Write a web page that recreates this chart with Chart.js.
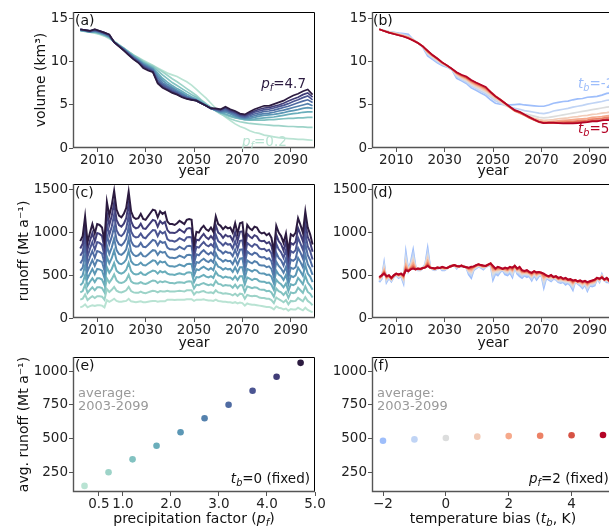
<!DOCTYPE html>
<html>
<head>
<meta charset="utf-8">
<script src="https://cdn.jsdelivr.net/npm/chart.js@4.4.0/dist/chart.umd.min.js"></script>
<style>
html, body { margin: 0; padding: 0; width: 609px; height: 529px; overflow: hidden; background: #fff; font-family: "DejaVu Sans", sans-serif; }
canvas { position: absolute; }
.t { position: absolute; white-space: nowrap; font-size: 13.5px; line-height: 1; color: #111; }
.t sub { font-size: 72%; vertical-align: -0.28em; line-height: 0; }
.pl { font-size: 14px; }
.avg { color: #999; font-size: 13px; line-height: 13px; }
.xt { font-size: 14px; text-align: center; width: 242px; }
</style>
</head>
<body>
<canvas id="ca" width="330" height="180" style="left:0;top:0"></canvas>
<canvas id="cb" width="330" height="180" style="left:300px;top:0"></canvas>
<canvas id="cc" width="330" height="180" style="left:0;top:172px"></canvas>
<canvas id="cd" width="330" height="180" style="left:300px;top:172px"></canvas>
<canvas id="ce" width="330" height="184" style="left:0;top:345px"></canvas>
<canvas id="cf" width="330" height="184" style="left:300px;top:345px"></canvas>

<div class="t pl" style="left:75px;top:13px">(a)</div>
<div class="t pl" style="left:373px;top:13px">(b)</div>
<div class="t pl" style="left:75px;top:185px">(c)</div>
<div class="t pl" style="left:373px;top:185px">(d)</div>
<div class="t pl" style="left:75px;top:358px">(e)</div>
<div class="t pl" style="left:373px;top:358px">(f)</div>

<div class="t" style="right:303px;top:77px;color:#2c1b40"><i>p<sub>f</sub></i>=4.7</div>
<div class="t" style="left:242px;top:135px;color:#b9e3d3"><i>p<sub>f</sub></i>=0.2</div>
<div class="t" style="left:578px;top:77px;color:#9ebefb"><i>t<sub>b</sub></i>=-2</div>
<div class="t" style="left:578px;top:122px;color:#b40426"><i>t<sub>b</sub></i>=5</div>

<div class="t avg" style="left:78px;top:386px">average:<br>2003-2099</div>
<div class="t avg" style="left:377px;top:386px">average:<br>2003-2099</div>
<div class="t" style="right:299px;top:472px"><i>t<sub>b</sub></i>=0 (fixed)</div>
<div class="t" style="left:529px;top:472px"><i>p<sub>f</sub></i>=2 (fixed)</div>

<div class="t xt" style="left:73px;top:511px">precipitation factor (<i>p<sub>f</sub></i>)</div>
<div class="t xt" style="left:372px;top:511px">temperature bias (<i>t<sub>b</sub></i>, K)</div>

<script>
// years: volume sampled every 2 years, runoff annual
const volYears = [];
for (let y = 2003; y <= 2099; y += 2) volYears.push(y);
const runYears = [];
for (let y = 2003; y <= 2099; y++) runYears.push(y);

const yearTicks = [2010, 2030, 2050, 2070, 2090];
const pfValues = [0.2, 0.7, 1.2, 1.7, 2.2, 2.7, 3.2, 3.7, 4.2, 4.7];
const tbValues = [-2, -1, 0, 1, 2, 3, 4, 5];

const pfColors = ['#b9e3d3', '#9dd3c8', '#82c2c1', '#6aaebb', '#5b97b5', '#5481ad', '#4f6ba2', '#4b5592', '#413d78', '#2c1b40'];
const tbColors = ['#9ebefb', '#c0d4f5', '#dcdddd', '#f2cbb7', '#f6a98b', '#ec8165', '#d65244', '#b40426'];

// (a) volume (km3), precipitation factor runs
const volPf02 = [13.6,13.55,13.45,13.35,13.2,13.0,12.7,12.4,12.0,11.6,11.2,10.8,10.5,10.2,9.9,9.6,9.3,9.0,8.7,8.5,8.3,8.0,7.7,7.3,6.8,6.3,5.8,5.2,4.6,4.1,3.6,3.2,2.8,2.5,2.3,2.0,1.8,1.7,1.5,1.4,1.3,1.2,1.15,1.1,1.05,1.0,1.0,0.95,0.9];
const volPf07 = [13.65,13.55,13.45,13.4,13.25,13.05,12.8,12.4,12.0,11.6,11.2,10.8,10.45,10.1,9.8,9.55,9.2,8.85,8.45,8.05,7.7,7.3,6.9,6.5,6.1,5.6,5.15,4.7,4.3,3.95,3.65,3.4,3.2,3.05,2.95,2.85,2.8,2.75,2.7,2.65,2.6,2.6,2.55,2.5,2.5,2.45,2.45,2.4,2.4];
const volPf12 = [13.65,13.6,13.45,13.45,13.3,13.1,12.85,12.35,11.95,11.6,11.15,10.75,10.4,10.0,9.7,9.45,9.0,8.5,8.05,7.6,7.25,6.9,6.55,6.2,5.9,5.5,5.1,4.75,4.4,4.1,3.85,3.65,3.5,3.4,3.3,3.25,3.25,3.25,3.25,3.3,3.3,3.35,3.4,3.45,3.45,3.5,3.5,3.55,3.55];
const volPf17 = [13.7,13.6,13.45,13.5,13.35,13.15,12.9,12.3,11.9,11.55,11.1,10.65,10.3,9.9,9.6,9.3,8.7,8.1,7.65,7.25,6.9,6.6,6.25,5.95,5.7,5.35,5.0,4.65,4.35,4.1,3.95,3.75,3.55,3.4,3.3,3.3,3.35,3.45,3.5,3.55,3.6,3.7,3.8,3.9,4.0,4.05,4.15,4.2,4.2];
const volPf22 = [13.7,13.6,13.5,13.55,13.4,13.2,12.95,12.3,11.9,11.5,11.05,10.6,10.2,9.8,9.5,9.2,8.45,7.85,7.4,7.05,6.7,6.4,6.05,5.8,5.6,5.3,4.95,4.6,4.35,4.15,4.15,3.95,3.7,3.5,3.4,3.45,3.55,3.7,3.8,3.85,3.9,4.0,4.1,4.25,4.35,4.45,4.6,4.7,4.6];
const volPf27 = [13.7,13.65,13.5,13.6,13.45,13.25,13.0,12.3,11.9,11.5,11.0,10.55,10.15,9.7,9.4,9.1,8.2,7.6,7.2,6.9,6.55,6.25,5.95,5.75,5.55,5.25,4.9,4.6,4.4,4.25,4.3,4.1,3.85,3.6,3.5,3.6,3.75,3.9,4.0,4.05,4.15,4.3,4.4,4.55,4.7,4.85,5.0,5.15,4.9];
const volPf32 = [13.75,13.65,13.55,13.65,13.5,13.3,13.05,12.3,11.85,11.45,10.95,10.5,10.1,9.6,9.3,9.0,7.95,7.4,7.05,6.75,6.45,6.1,5.85,5.7,5.5,5.2,4.9,4.6,4.45,4.3,4.45,4.2,4.0,3.7,3.6,3.75,3.95,4.1,4.25,4.3,4.4,4.55,4.7,4.85,5.05,5.25,5.45,5.6,5.3];
const volPf37 = [13.75,13.7,13.6,13.7,13.55,13.35,13.1,12.3,11.85,11.4,10.9,10.4,10.0,9.5,9.2,8.9,7.75,7.25,6.9,6.6,6.35,6.0,5.8,5.65,5.5,5.2,4.9,4.6,4.5,4.4,4.6,4.3,4.1,3.8,3.7,3.9,4.15,4.3,4.45,4.5,4.65,4.8,4.95,5.15,5.4,5.6,5.85,6.05,5.6];
const volPf42 = [13.8,13.7,13.6,13.75,13.6,13.4,13.15,12.3,11.8,11.35,10.85,10.35,9.95,9.4,9.1,8.85,7.6,7.1,6.8,6.5,6.25,5.95,5.75,5.6,5.5,5.2,4.9,4.6,4.55,4.45,4.7,4.4,4.2,3.9,3.8,4.05,4.3,4.5,4.65,4.7,4.85,5.0,5.2,5.45,5.7,5.9,6.2,6.4,5.9];
const volPf47 = [13.8,13.7,13.6,13.8,13.6,13.4,13.2,12.3,11.8,11.3,10.8,10.3,9.9,9.3,9.0,8.8,7.5,7.0,6.7,6.4,6.2,5.9,5.7,5.6,5.5,5.2,4.9,4.6,4.6,4.5,4.8,4.5,4.3,4.0,3.9,4.2,4.5,4.7,4.9,4.9,5.1,5.3,5.5,5.8,6.1,6.3,6.6,6.8,6.2];

// (b) volume (km3), temperature bias runs
const volTbM2 = [13.8,13.65,13.5,13.45,13.35,13.3,13.2,12.6,12.2,11.7,10.7,10.3,9.9,9.6,9.4,9.1,8.1,7.8,7.5,7.0,6.7,6.4,6.1,5.6,5.2,5.1,5.05,5.0,5.05,5.1,5.0,4.95,4.9,4.85,4.85,5.0,5.2,5.3,5.4,5.45,5.6,5.7,5.75,5.9,5.95,6.0,6.15,6.35,6.4];
const volTbM1 = [13.8,13.65,13.5,13.4,13.3,13.2,13.05,12.6,12.2,11.75,10.9,10.45,10.05,9.7,9.45,9.1,8.3,7.95,7.65,7.2,6.9,6.6,6.3,5.9,5.5,5.2,4.95,4.75,4.6,4.5,4.35,4.25,4.15,4.05,4.0,4.1,4.3,4.4,4.5,4.6,4.75,4.85,4.95,5.1,5.2,5.3,5.4,5.55,5.6];
const volTb0 = [13.8,13.65,13.5,13.4,13.25,13.1,12.95,12.55,12.2,11.8,11.0,10.55,10.15,9.8,9.5,9.15,8.45,8.1,7.8,7.4,7.05,6.8,6.5,6.1,5.7,5.35,5.0,4.7,4.4,4.2,4.0,3.85,3.7,3.55,3.5,3.55,3.65,3.75,3.85,3.95,4.05,4.15,4.25,4.35,4.45,4.55,4.65,4.75,4.8];
const volTb1 = [13.8,13.6,13.45,13.35,13.2,13.05,12.9,12.55,12.2,11.8,11.1,10.65,10.25,9.85,9.55,9.2,8.55,8.2,7.95,7.55,7.2,6.95,6.65,6.25,5.8,5.45,5.05,4.7,4.35,4.1,3.85,3.65,3.45,3.3,3.2,3.25,3.3,3.4,3.45,3.5,3.6,3.65,3.75,3.8,3.9,3.95,4.05,4.1,4.2];
const volTb2 = [13.8,13.6,13.45,13.3,13.15,13.0,12.85,12.55,12.2,11.8,11.15,10.7,10.3,9.9,9.55,9.2,8.65,8.3,8.05,7.65,7.35,7.1,6.8,6.35,5.9,5.55,5.15,4.7,4.3,4.05,3.8,3.55,3.35,3.15,3.05,3.05,3.1,3.15,3.2,3.25,3.3,3.35,3.4,3.45,3.55,3.6,3.65,3.75,3.8];
const volTb3 = [13.8,13.6,13.4,13.3,13.15,13.0,12.8,12.5,12.2,11.8,11.2,10.75,10.35,9.9,9.55,9.2,8.7,8.4,8.15,7.75,7.45,7.2,6.9,6.45,6.0,5.65,5.2,4.75,4.3,4.1,3.8,3.5,3.25,3.05,2.95,2.95,2.95,3.0,3.05,3.1,3.1,3.15,3.2,3.25,3.35,3.4,3.45,3.55,3.6];
const volTb4 = [13.8,13.6,13.4,13.25,13.1,12.95,12.75,12.5,12.2,11.8,11.25,10.8,10.4,9.95,9.6,9.2,8.75,8.45,8.2,7.85,7.55,7.3,7.0,6.55,6.05,5.65,5.2,4.75,4.35,4.15,3.85,3.55,3.25,3.0,2.9,2.9,2.9,2.9,2.9,2.95,2.95,3.0,3.05,3.1,3.15,3.2,3.25,3.35,3.35];
const volTb5 = [13.8,13.6,13.4,13.25,13.1,12.95,12.75,12.5,12.2,11.8,11.3,10.8,10.4,9.95,9.6,9.2,8.8,8.5,8.3,7.9,7.6,7.35,7.1,6.5,6.0,5.6,5.2,4.8,4.4,4.2,3.9,3.6,3.3,3.05,2.9,2.95,2.95,2.9,2.85,2.85,2.85,2.9,2.95,3.0,3.1,3.1,3.2,3.25,3.2];

// (c) runoff (Mt/a), precipitation factor runs, 2003-2099
const runPf02 = [125,135,160,125,140,150,140,150,150,145,125,210,190,205,225,200,190,190,195,200,225,195,190,185,190,195,185,185,190,195,200,200,190,195,195,195,215,215,215,210,215,215,215,215,220,220,220,200,215,215,215,220,210,205,205,200,215,200,195,190,190,185,185,175,185,170,180,175,145,170,160,155,155,150,145,140,135,130,130,120,100,135,120,115,100,110,85,105,100,100,120,105,90,120,95,80,65];
const runPf07 = [215,225,275,210,235,255,235,255,255,250,215,340,305,330,365,320,305,300,310,325,365,315,300,295,295,310,295,290,300,310,320,315,300,315,310,310,320,310,310,310,315,320,315,310,325,325,325,275,305,300,310,315,300,295,300,290,325,300,295,285,290,285,280,265,285,260,285,280,225,270,260,255,260,255,240,235,235,225,225,210,175,240,220,205,185,210,160,200,195,200,235,215,195,245,200,180,150];
const runPf12 = [300,315,390,295,330,360,325,360,360,350,300,465,415,455,510,440,415,410,420,445,505,430,410,405,405,420,405,400,410,425,440,435,410,430,420,430,420,410,410,405,415,420,415,410,425,430,425,345,390,385,400,410,395,385,395,380,435,400,395,375,385,380,380,355,390,350,385,385,305,370,360,350,360,355,335,330,330,315,320,300,250,345,315,300,270,305,235,300,290,300,355,325,295,370,305,285,240];
const runPf17 = [385,410,505,380,425,465,420,465,465,450,385,595,530,575,645,555,530,520,535,565,645,550,520,510,515,535,510,505,525,540,555,550,520,550,535,545,520,510,510,505,515,525,515,510,530,535,530,420,480,475,490,505,485,475,490,470,540,500,490,470,485,475,475,450,490,445,490,490,390,475,460,445,460,455,430,425,425,410,415,390,330,450,415,395,360,405,315,395,385,400,470,435,395,495,415,380,330];
const runPf22 = [470,500,620,465,520,575,515,575,570,555,470,720,640,700,790,675,640,630,650,685,785,665,630,620,625,650,620,615,635,655,675,670,630,665,650,660,620,605,605,600,610,625,615,605,630,635,630,495,570,560,585,600,580,565,585,560,650,600,590,565,585,570,575,540,595,535,595,595,470,575,560,545,565,555,525,520,520,505,510,485,405,555,510,490,445,505,395,495,480,500,590,545,495,620,520,485,420];
const runPf27 = [555,590,735,550,615,680,610,680,670,655,555,850,750,825,930,795,750,740,765,805,925,780,740,725,735,765,725,720,745,770,795,790,740,780,765,775,725,705,705,700,710,730,720,705,735,740,735,565,655,645,675,695,670,655,680,650,760,700,685,660,680,665,670,630,695,625,695,700,550,675,655,640,665,655,620,615,615,595,605,575,480,660,610,580,530,600,470,590,575,595,705,655,595,745,630,580,505];
const runPf32 = [640,685,850,635,715,785,705,785,775,755,640,975,865,950,1070,915,865,850,880,930,1065,900,850,835,840,880,835,830,855,885,915,905,850,900,880,890,825,805,805,800,810,835,820,805,840,845,840,640,745,735,770,795,765,745,770,740,870,800,785,755,780,765,765,725,800,720,800,805,635,780,755,740,765,755,720,710,715,690,700,665,555,765,705,675,615,700,550,685,670,695,820,765,695,870,735,680,595];
const runPf37 = [730,775,960,720,810,890,800,890,880,855,730,1105,975,1070,1210,1030,975,960,990,1050,1200,1015,960,945,950,990,945,935,970,1000,1030,1025,960,1015,990,1010,925,905,905,895,910,935,920,905,945,950,945,715,835,825,860,890,855,840,865,835,975,900,880,850,880,860,865,815,900,810,905,910,715,880,855,835,865,855,815,805,810,785,800,755,635,870,805,770,705,800,630,785,765,795,940,870,800,995,840,785,685];
const runPf42 = [815,870,1075,805,905,995,895,995,985,960,815,1230,1090,1195,1350,1150,1090,1070,1105,1170,1340,1135,1070,1050,1060,1105,1050,1045,1080,1115,1150,1140,1070,1135,1105,1125,1030,1000,1000,995,1010,1040,1020,1000,1045,1055,1045,785,920,910,950,985,945,925,960,925,1085,1000,980,940,975,955,960,905,1005,900,1010,1015,795,985,955,935,970,955,910,900,905,875,890,845,710,975,900,865,790,895,705,880,860,895,1055,980,900,1120,950,885,775];
const runPf47 = [900,960,1190,890,1000,1100,990,1100,1090,1060,900,1360,1200,1320,1490,1270,1200,1180,1220,1290,1480,1250,1180,1160,1170,1220,1160,1150,1190,1230,1270,1260,1180,1250,1220,1240,1130,1100,1100,1090,1110,1140,1120,1100,1150,1160,1150,860,1010,1000,1050,1080,1040,1020,1060,1010,1190,1100,1080,1040,1070,1050,1060,1000,1110,990,1110,1120,880,1090,1050,1030,1070,1060,1010,990,1000,970,990,940,780,1080,1000,960,880,990,780,980,960,1000,1170,1090,1000,1250,1060,980,860];

// (d) runoff (Mt/a), temperature bias runs, 2003-2099
const runTbM2 = [420,460,640,420,470,430,480,500,470,490,410,760,560,650,790,600,560,560,590,630,810,600,570,560,575,590,560,560,580,600,620,620,580,610,600,610,590,510,470,560,580,600,590,570,600,610,620,450,520,500,540,560,510,500,530,480,600,520,490,470,500,480,490,440,500,450,490,500,360,470,450,430,460,450,420,410,420,390,410,380,330,430,400,380,350,390,320,380,370,380,460,420,510,440,420,420,370];
const runTbM1 = [435,470,615,435,475,440,485,505,480,495,430,715,560,630,745,595,565,565,590,620,765,600,575,565,580,590,570,565,580,600,620,620,585,610,605,610,590,530,500,570,590,605,595,580,600,615,625,485,535,520,550,565,530,520,545,505,600,535,515,490,510,500,500,460,510,470,500,505,395,475,460,445,465,460,430,425,430,410,420,395,355,435,405,395,365,400,340,390,385,395,460,430,500,440,430,425,375];
const runTb0 = [445,475,590,450,485,445,490,510,485,505,450,675,555,615,700,585,570,565,590,615,725,595,575,570,580,590,575,575,580,600,615,620,595,610,605,605,590,545,525,580,595,615,605,590,605,615,630,515,545,540,560,565,545,535,560,525,605,545,535,510,520,515,510,480,520,485,510,515,425,485,465,460,470,465,440,440,435,425,425,410,375,435,415,405,380,410,360,400,400,410,465,435,495,445,440,430,385];
const runTb1 = [455,485,570,460,485,455,490,510,495,505,460,645,555,605,670,585,570,570,585,605,695,595,580,570,585,585,585,575,585,600,615,620,595,605,610,605,595,555,545,585,605,615,605,595,605,620,630,545,555,560,570,570,555,545,570,545,605,555,555,520,530,525,520,490,530,500,520,515,455,485,475,475,470,475,450,450,445,435,435,425,395,440,415,415,395,415,380,410,410,420,465,445,490,445,450,430,385];
const runTb2 = [465,490,555,470,490,460,495,515,500,510,475,615,555,590,640,580,575,570,585,600,665,595,580,575,585,585,590,580,585,600,615,620,600,605,610,605,595,570,565,590,610,620,610,600,605,620,635,565,565,570,575,570,570,560,580,560,605,565,570,535,535,540,525,505,535,510,525,520,475,490,480,485,475,480,455,460,450,450,440,435,410,440,420,425,405,420,390,415,420,430,465,450,485,445,455,435,390];
const runTb3 = [470,495,540,480,495,465,495,515,505,515,485,590,550,585,615,575,575,575,585,595,640,590,585,575,590,585,595,585,585,600,610,620,605,605,615,600,595,575,580,600,615,625,615,610,610,625,635,585,570,585,580,575,575,565,590,570,610,570,580,545,540,545,530,515,540,520,530,525,495,495,485,495,475,485,460,470,455,455,445,445,420,445,425,430,415,430,405,420,430,440,470,455,480,450,460,435,395];
const runTb4 = [475,495,530,485,500,465,500,520,505,520,495,575,550,575,595,570,580,575,585,595,625,590,585,580,590,585,595,590,585,600,610,620,610,605,615,600,595,585,590,600,615,630,620,610,610,625,640,600,575,595,585,575,585,575,595,580,610,575,590,555,545,555,535,525,545,530,535,530,510,500,485,500,480,485,465,475,455,465,445,450,430,445,430,435,420,430,415,425,435,445,470,455,475,450,465,440,400];
const runTb5 = [480,500,520,490,500,470,500,520,510,520,500,560,550,570,580,570,580,575,585,590,610,590,585,580,590,585,600,590,585,600,610,620,610,605,615,600,595,590,600,605,620,630,620,615,610,625,640,610,580,600,590,575,590,580,600,590,610,580,600,560,550,560,540,530,550,535,540,530,520,500,490,505,480,490,470,480,460,470,450,455,440,445,430,440,425,435,420,430,440,450,470,460,475,450,470,440,400];

// (e), (f) average runoff 2003-2099 (Mt/a)
const avgRunoffPf = [155, 255, 350, 450, 550, 652, 752, 855, 958, 1060];
const avgRunoffTb = [487, 497, 507, 517, 521, 524, 527, 529];

Chart.defaults.font.family = '"DejaVu Sans", sans-serif';
const tickFont = { family: '"DejaVu Sans", sans-serif', size: 13.5 };
const titleFont = { family: '"DejaVu Sans", sans-serif', size: 14 };

// box round the plot area: top/right black, left/bottom grey like the original spines
const frame = {
    id: 'frame',
    afterDraw(chart) {
        const { ctx, chartArea: a } = chart;
        ctx.save();
        ctx.strokeStyle = '#000';
        ctx.lineWidth = 1;
        ctx.beginPath();
        ctx.moveTo(a.left, a.top + 0.5);
        ctx.lineTo(a.right - 0.5, a.top + 0.5);
        ctx.lineTo(a.right - 0.5, a.bottom);
        ctx.stroke();
        ctx.strokeStyle = '#555';
        ctx.lineWidth = 1.4;
        ctx.beginPath();
        ctx.moveTo(a.left + 0.5, a.top);
        ctx.lineTo(a.left + 0.5, a.bottom - 0.5);
        ctx.lineTo(a.right, a.bottom - 0.5);
        ctx.stroke();
        ctx.restore();
    }
};

const xScale = (min, max, ticks, fmt, height, title) => ({
    type: 'linear', min, max,
    afterBuildTicks: s => { s.ticks = ticks.map(v => ({ value: v })); },
    afterFit: s => { s.height = height; },
    ticks: { callback: fmt, font: tickFont, color: '#222', padding: 0, maxRotation: 0, autoSkip: false },
    grid: { drawOnChartArea: false, tickLength: 4, color: '#555' },
    border: { display: false },
    title: title ? { display: true, text: title, font: titleFont, color: '#111', padding: { top: 0, bottom: 0 } } : { display: false }
});

const yScale = (min, max, ticks, width, title, pad) => ({
    type: 'linear', min, max,
    afterBuildTicks: s => { s.ticks = ticks.map(v => ({ value: v })); },
    afterFit: s => { s.width = width; },
    ticks: { callback: v => String(v), font: tickFont, color: '#222', padding: 1 },
    grid: { drawOnChartArea: false, tickLength: 4, color: '#555' },
    border: { display: false },
    title: title ? { display: true, text: title, font: titleFont, color: '#111', padding: { top: pad, bottom: 0 } } : { display: false }
});

const lineSets = (series, xs, colors, width) => series.map((arr, i) => ({
    data: arr.map((v, j) => ({ x: xs[j], y: v })),
    borderColor: colors[i],
    borderWidth: width,
    pointRadius: 0,
    tension: 0,
    order: series.length - 1 - i
}));

const dotSet = (xs, ys, colors) => [{
    data: xs.map((x, i) => ({ x, y: ys[i] })),
    pointBackgroundColor: colors,
    pointBorderWidth: 0,
    pointRadius: 3.3
}];

const makePanel = (id, type, datasets, x, y, padRight) => new Chart(document.getElementById(id), {
    type,
    data: { datasets },
    options: {
        responsive: false,
        animation: false,
        events: [],
        layout: { padding: { left: 0, right: padRight, top: 12, bottom: 0 } },
        plugins: { legend: { display: false }, tooltip: { enabled: false } },
        scales: { x, y }
    },
    plugins: [frame]
});

const yearFmt = v => String(v);
const volPf = [volPf02, volPf07, volPf12, volPf17, volPf22, volPf27, volPf32, volPf37, volPf42, volPf47];
const volTb = [volTbM2, volTbM1, volTb0, volTb1, volTb2, volTb3, volTb4, volTb5];
const runPf = [runPf02, runPf07, runPf12, runPf17, runPf22, runPf27, runPf32, runPf37, runPf42, runPf47];
const runTb = [runTbM2, runTbM1, runTb0, runTb1, runTb2, runTb3, runTb4, runTb5];

makePanel('ca', 'line', lineSets(volPf, volYears, pfColors, 1.7),
    xScale(2000, 2100, yearTicks, yearFmt, 32, 'year'),
    yScale(0, 15.8, [0, 5, 10, 15], 73, 'volume (km³)', 32.6), 15);
makePanel('cb', 'line', lineSets(volTb, volYears, tbColors, 1.7),
    xScale(2000, 2100, yearTicks, yearFmt, 32, 'year'),
    yScale(0, 15.8, [0, 5, 10, 15], 72, null, 0), 16);
makePanel('cc', 'line', lineSets(runPf, runYears, pfColors, 2),
    xScale(2000, 2100, yearTicks, yearFmt, 34, 'year'),
    yScale(0, 1570, [0, 500, 1000, 1500], 73, 'runoff (Mt a⁻¹)', 15.6), 15);
makePanel('cd', 'line', lineSets(runTb, runYears, tbColors, 2),
    xScale(2000, 2100, yearTicks, yearFmt, 34, 'year'),
    yScale(0, 1570, [0, 500, 1000, 1500], 72, null, 0), 16);
makePanel('ce', 'scatter', dotSet(pfValues, avgRunoffPf, pfColors),
    xScale(-0.04, 5.0, [0.5, 1, 2, 3, 4, 5], v => v.toFixed(1), 37, null),
    yScale(110, 1103, [250, 500, 750, 1000], 73, 'avg. runoff (Mt a⁻¹)', 15.6), 15);
makePanel('cf', 'scatter', dotSet(tbValues, avgRunoffTb, tbColors),
    xScale(-2.35, 5.35, [-2, 0, 2, 4], v => (v < 0 ? '\u2212' + Math.abs(v) : String(v)), 37, null),
    yScale(110, 1103, [250, 500, 750, 1000], 72, null, 0), 16);
</script>
</body>
</html>
